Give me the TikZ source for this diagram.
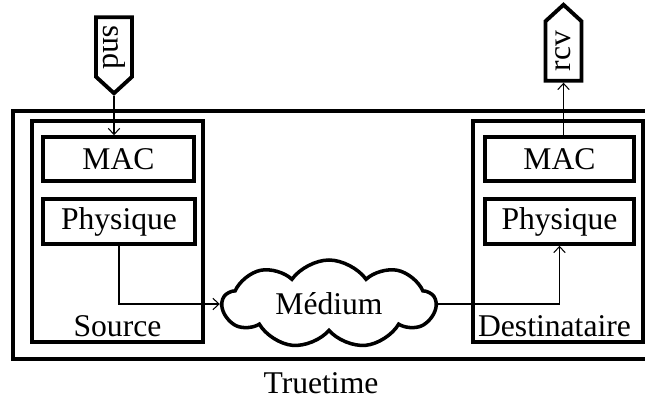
\documentclass[tikz,border=0pt]{standalone}
\usepackage{fontspec}
\setmainfont{Liberation Serif}
\usetikzlibrary{shapes.symbols,arrows.meta}

\begin{document}
\begin{tikzpicture}[
    font=\fontsize{18}{21}\selectfont,
    >={Straight Barb[length=3.5pt,width=6.5pt]},
    layer/.style={draw,line width=2pt,minimum width=3.02cm,minimum height=0.88cm,inner sep=0pt},
    station/.style={draw,line width=2pt,minimum width=3.42cm,minimum height=4.42cm,inner sep=0pt},
    port/.style={draw,line width=2.2pt,shape=signal,signal to=east,signal from=nowhere,
                 signal pointer angle=95,minimum width=1.52cm,minimum height=0.72cm,inner sep=0pt},
    wire/.style={line width=0.6pt}]
    \useasboundingbox (0,0) rectangle (12.9,-8.1);

    \draw [line width=2.4pt] (12.9,-2.22) -- (0.26,-2.22) -- (0.26,-7.18) -- (12.9,-7.18);
    \path (6.42,-7.66) node (truetime) {Truetime};

    \path (2.35,-4.63) node [station] (src) {};
    \path (2.37,-3.18) node [layer] (smac) {MAC};
    \path (2.38,-4.43) node [layer,minimum width=3.04cm,minimum height=0.9cm] (sphy) {Physique};
    \path ([yshift=0.14cm]src.south) node [anchor=base] (srcname) {Source};

    \path (11.16,-4.63) node [station,minimum width=3.4cm] (dst) {};
    \path (11.19,-3.18) node [layer,minimum width=2.98cm] (dmac) {MAC};
    \path (11.19,-4.43) node [layer,minimum width=2.98cm,minimum height=0.9cm] (dphy) {Physique};
    \path ([xshift=-0.07cm,yshift=0.14cm]dst.south) node [anchor=base] (dstname) {Destinataire};

    \path (6.58,-6.08) node [draw,cloud,cloud puffs=9,cloud puff arc=110,cloud ignores aspect,line width=2pt,
     minimum width=4.26cm,minimum height=1.76cm,inner sep=0pt] (medium) {Médium};

    \path (2.28,-0.94) node [port,rotate=-90] (snd) {snd};
    \path (11.27,-1.02) node [port,rotate=90] (rcv) {rcv};

    \draw [wire,->] (snd.east) -- (snd.east |- smac.north);
    \draw [wire,->] (rcv.west |- dmac.north) -- (rcv.west);
    \draw [wire,->] (sphy.south) |- (medium.west);
    \draw [wire,->] (medium.east) -| (dphy.south);
\end{tikzpicture}
\end{document}
